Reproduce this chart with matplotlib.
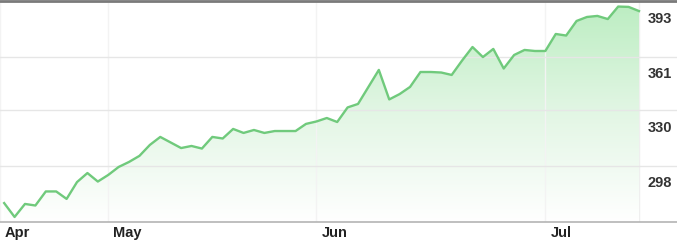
import numpy as np
import matplotlib.pyplot as plt
import matplotlib.transforms as mtransforms
from matplotlib.colors import LinearSegmentedColormap
from matplotlib.patches import Polygon

plt.rcParams['font.family'] = ['Liberation Sans', 'DejaVu Sans']

# daily closes (mid-Apr .. mid-Jul)
prices = [276.6, 268.6, 276.1, 275.2, 283.3, 283.3, 279.0, 288.7, 293.9, 289.0,
          292.8, 297.4, 300.3, 303.8, 310.1, 314.7, 311.5, 308.3, 309.5, 308.0,
          314.7, 313.8, 319.3, 317.0, 318.7, 317.0, 318.1, 318.1, 318.1, 322.2,
          323.6, 325.6, 323.3, 331.7, 333.7, 343.5, 353.3, 336.3, 339.4, 343.5,
          352.1, 352.1, 351.8, 350.4, 358.7, 366.5, 360.7, 365.4, 354.1, 361.9,
          364.8, 364.2, 364.2, 374.0, 373.1, 381.5, 383.8, 384.4, 382.6, 389.8,
          389.6, 387.2]
month_labels = ['Apr', 'May', 'Jun', 'Jul']
month_pos = [-0.4, 10, 30, 52]
y_ticks = [298, 330, 361, 393]
y_labels = ['298', '330', '361', '393']

y_min, y_max = 265.7, 393
x_lo, x_hi = -0.4, 64.65

fig = plt.figure(figsize=(6.77, 2.4), dpi=100)
ax = fig.add_axes([0, 18 / 240, 1, 221 / 240])
x = np.arange(len(prices))
ax.set_xlim(x_lo, x_hi)
ax.set_ylim(y_min, y_max)

# gradient fill under the line
verts = np.column_stack([np.r_[x[0], x, x[-1]], np.r_[y_min, prices, y_min]])
patch = Polygon(verts, closed=True, facecolor='none', edgecolor='none')
ax.add_patch(patch)
cmap = LinearSegmentedColormap.from_list('g', ['#ffffff', '#e2f6e4', '#bbedc1'])
grad = np.linspace(0, 1, 256).reshape(-1, 1)
im = ax.imshow(grad, extent=[x[0], x[-1], y_min, y_max], origin='lower',
               aspect='auto', cmap=cmap, zorder=1)
im.set_clip_path(patch)

ax.plot(x, prices, color='#70ca7c', lw=1.7, solid_joinstyle='round', zorder=3)
ax.axvline(x[-1], color='#efefef', lw=1, zorder=0)

ax.set_xticks(month_pos)
ax.set_xticklabels(month_labels)
ax.set_yticks(y_ticks)
ax.set_yticklabels(y_labels)
ax.grid(axis='y', color='#e6e6e6', lw=1, zorder=0)
ax.grid(axis='x', color='#f3f3f3', lw=1, zorder=0)

for s in ['left', 'right']:
    ax.spines[s].set_visible(False)
ax.spines['top'].set_color('#7a7a7a')
ax.spines['top'].set_linewidth(2)
ax.spines['bottom'].set_color('#b4b4b4')
ax.spines['bottom'].set_linewidth(1.2)

ax.yaxis.tick_right()
ax.tick_params(axis='y', length=0, pad=-21, labelsize=10.5, labelcolor='#333333')
ax.tick_params(axis='x', length=0, pad=3, labelsize=10.5, labelcolor='#222222')

down = mtransforms.ScaledTranslation(0, -0.16, fig.dpi_scale_trans)
for lab in ax.get_yticklabels():
    lab.set_fontweight('bold')
    lab.set_transform(lab.get_transform() + down)
right = mtransforms.ScaledTranslation(0.05, 0, fig.dpi_scale_trans)
for lab in ax.get_xticklabels():
    lab.set_fontweight('bold')
    lab.set_horizontalalignment('left')
    lab.set_transform(lab.get_transform() + right)

fig.savefig('out.png', dpi=100)
